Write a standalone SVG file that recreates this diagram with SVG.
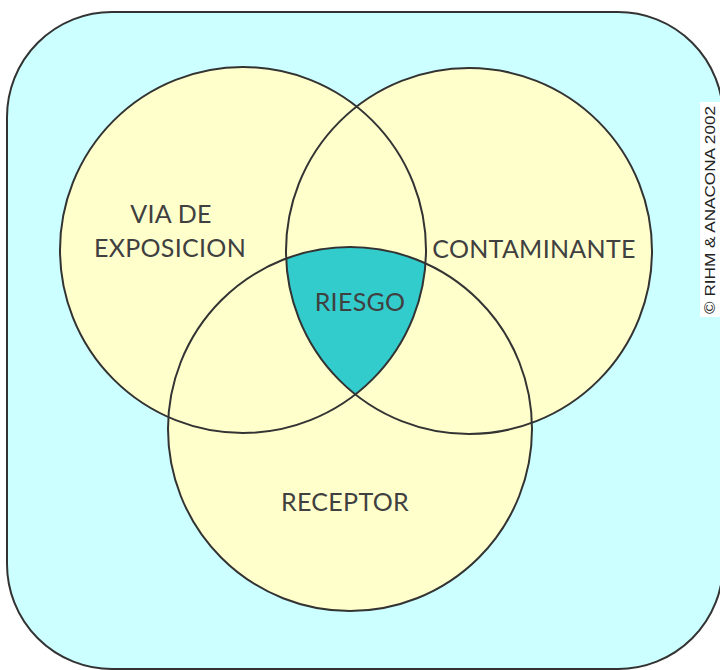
<svg xmlns="http://www.w3.org/2000/svg" width="720" height="670" viewBox="0 0 720 670">
  <style>
    .set { fill: #ffffcc; }
    .edge { fill: none; stroke: #333333; stroke-width: 2; }
    .lbl { font-family: Lato, "Liberation Sans", sans-serif; font-size: 25px; font-weight: 400; letter-spacing: 0.3px; fill: #404040; text-anchor: middle; }
    .copy { font-family: "Liberation Sans", Arial, sans-serif; font-size: 14px; fill: #222222; text-anchor: middle; }
  </style>
  <defs>
    <clipPath id="clipLeft"><circle cx="243" cy="250" r="183"/></clipPath>
    <clipPath id="clipRight"><circle cx="469" cy="251" r="183"/></clipPath>
  </defs>
  <g id="background">
    <rect x="7" y="12" width="716" height="657" rx="105" ry="105" fill="#ccffff" stroke="#333333" stroke-width="2"/>
    <rect x="700" y="102" width="20" height="215" fill="#ffffff"/>
    <text class="copy" transform="translate(715 210) rotate(-90)" textLength="208" lengthAdjust="spacingAndGlyphs">© RIHM &amp; ANACONA 2002</text>
  </g>
  <g id="fills">
    <circle class="set" cx="243" cy="250" r="183"/>
    <circle class="set" cx="469" cy="251" r="183"/>
    <circle class="set" cx="350" cy="429" r="182"/>
    <g clip-path="url(#clipLeft)">
      <g clip-path="url(#clipRight)">
        <circle cx="350" cy="429" r="182" fill="#33cccc"/>
      </g>
    </g>
  </g>
  <g id="via-de-exposicion">
    <circle class="edge" cx="243" cy="250" r="183"/>
    <text class="lbl" x="171" y="223">VIA DE</text>
    <text class="lbl" x="170" y="257">EXPOSICION</text>
  </g>
  <g id="contaminante">
    <circle class="edge" cx="469" cy="251" r="183"/>
    <text class="lbl" x="534" y="258">CONTAMINANTE</text>
  </g>
  <g id="receptor">
    <circle class="edge" cx="350" cy="429" r="182"/>
    <text class="lbl" x="345" y="511">RECEPTOR</text>
  </g>
  <g id="riesgo">
    <text class="lbl" x="360" y="311">RIESGO</text>
  </g>
  <g id="connectors"></g>
</svg>
